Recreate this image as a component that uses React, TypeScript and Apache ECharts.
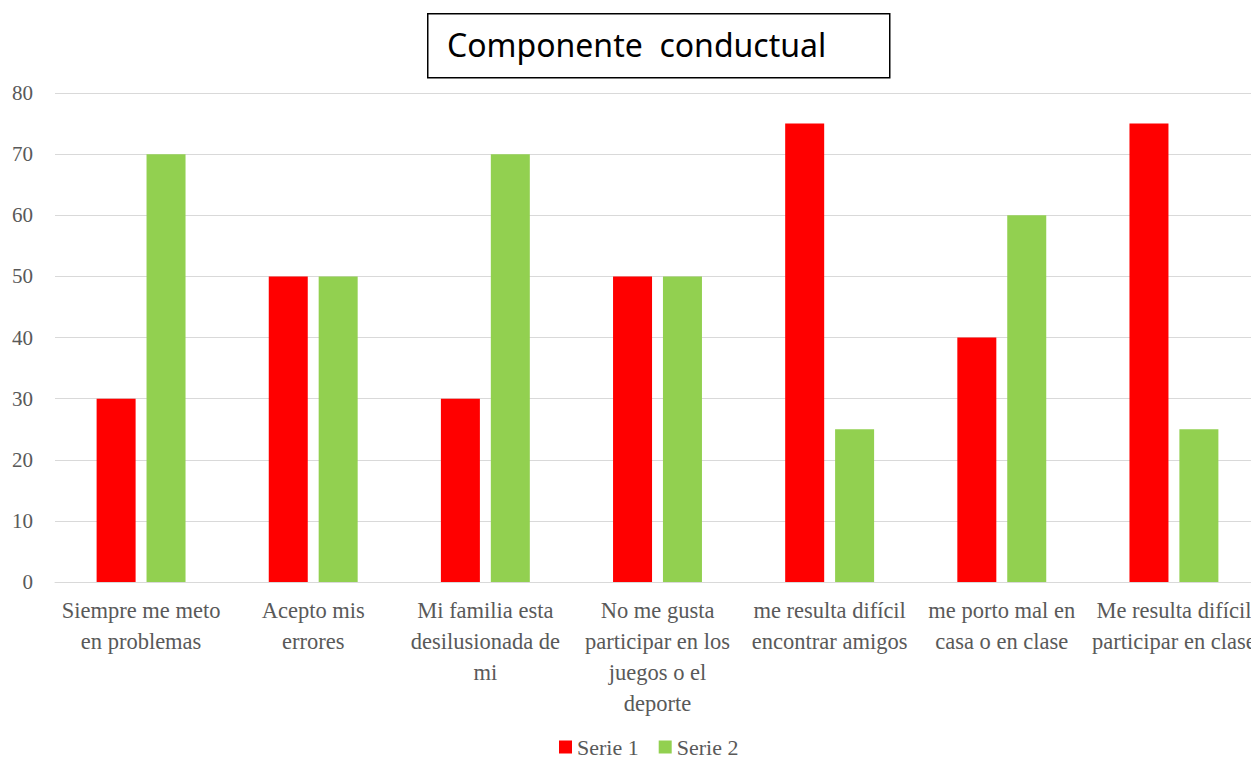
import React, { useEffect, useRef } from "react";
import * as echarts from "echarts";

const categories = [
  "Siempre me meto\nen problemas",
  "Acepto mis\nerrores",
  "Mi familia esta\ndesilusionada de\nmi",
  "No me gusta\nparticipar en los\njuegos o el\ndeporte",
  "me resulta difícil\nencontrar amigos",
  "me porto mal en\ncasa o en clase",
  "Me resulta difícil\nparticipar en clase",
];
const serie1 = [30, 50, 30, 50, 75, 40, 75];
const serie2 = [70, 50, 70, 50, 25, 60, 25];
const seriesNames = ["Serie 1", "Serie 2"];
const titleText = "Componente  conductual";

const FONT = "'Liberation Serif', 'DejaVu Serif', serif";
const GREY = "#595959";

export default function App() {
  const ref = useRef<HTMLDivElement>(null);
  useEffect(() => {
    if (!ref.current) return;
    const chart = echarts.init(ref.current, undefined, { renderer: "svg" });
    chart.setOption({
      animation: false,
      backgroundColor: "#ffffff",
      graphic: [
        {
          type: "rect",
          left: 427,
          top: 13,
          shape: { width: 462, height: 64 },
          style: { fill: "#ffffff", stroke: "#000000", lineWidth: 1.5 },
        },
        {
          type: "text",
          left: 447,
          top: 28,
          style: {
            text: titleText,
            font: "32px 'Noto Sans', 'Open Sans', sans-serif",
            fill: "#000000",
          },
        },
      ],
      legend: {
        bottom: -3,
        left: 554,
        itemWidth: 13,
        itemHeight: 13,
        itemGap: 20,
        icon: "rect",
        textStyle: { fontFamily: FONT, fontSize: 22, color: GREY },
        data: seriesNames,
      },
      grid: { left: 55, right: 0, top: 93, bottom: 178, containLabel: false },
      xAxis: {
        type: "category",
        data: categories,
        axisLine: { lineStyle: { color: "#d9d9d9", width: 1 } },
        axisTick: { show: false },
        axisLabel: {
          interval: 0,
          color: GREY,
          fontFamily: FONT,
          fontSize: 22.5,
          lineHeight: 31,
          margin: 13,
        },
      },
      yAxis: {
        type: "value",
        min: 0,
        max: 80,
        interval: 10,
        axisLine: { show: false },
        axisTick: { show: false },
        splitLine: { lineStyle: { color: "#d9d9d9", width: 1 } },
        axisLabel: { color: GREY, fontFamily: FONT, fontSize: 21, margin: 22 },
      },
      series: [
        {
          name: seriesNames[0],
          type: "bar",
          data: serie1,
          barWidth: 39,
          barGap: "28%",
          itemStyle: { color: "#ff0000" },
        },
        {
          name: seriesNames[1],
          type: "bar",
          data: serie2,
          barWidth: 39,
          itemStyle: { color: "#92d050" },
        },
      ],
    });
    return () => chart.dispose();
  }, []);
  return (
    <div
      style={{
        position: "absolute",
        left: 0,
        top: 0,
        width: 1251,
        height: 760,
        overflow: "hidden",
        background: "#ffffff",
      }}
    >
      <div ref={ref} style={{ width: 1260, height: 760 }} />
    </div>
  );
}
